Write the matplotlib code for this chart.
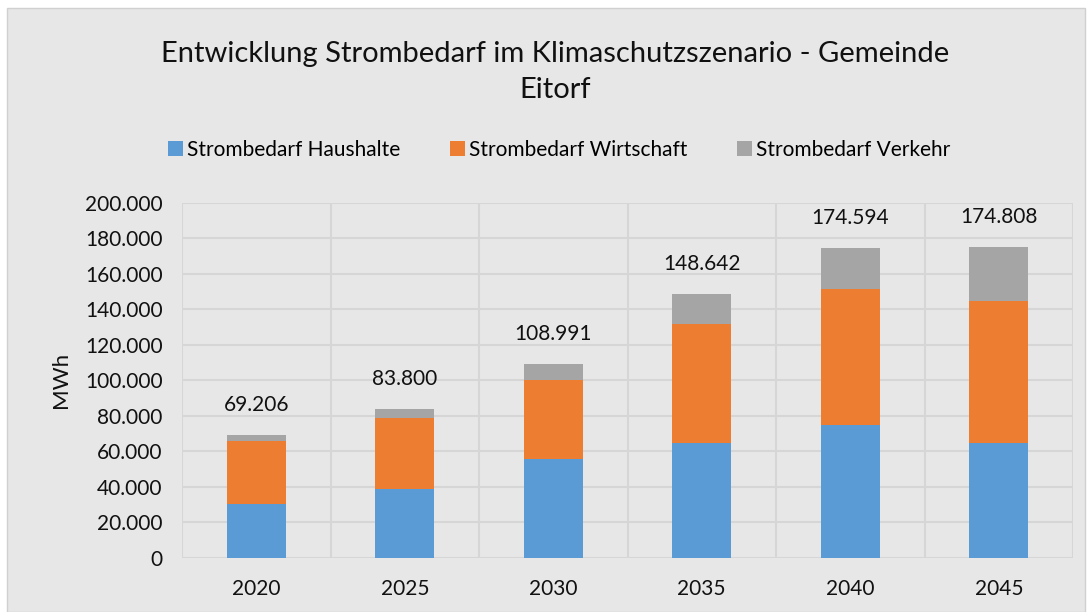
import numpy as np
import matplotlib
matplotlib.use("Agg")
import matplotlib.pyplot as plt
from matplotlib.patches import Rectangle
from matplotlib.ticker import FuncFormatter

years = ["2020", "2025", "2030", "2035", "2040", "2045"]
haushalte = [30400, 38900, 55400, 64400, 74800, 64400]
wirtschaft = [35500, 39800, 44900, 67400, 76400, 80400]
verkehr = [3306, 5100, 8691, 16842, 23394, 30008]
series_names = ["Strombedarf Haushalte", "Strombedarf Wirtschaft", "Strombedarf Verkehr"]

plt.rcParams["font.family"] = ["Lato", "DejaVu Sans"]
bg = "#e7e7e7"
grid_c = "#d6d6d6"
colors = ["#5b9bd5", "#ed7d31", "#a5a5a5"]

fig = plt.figure(figsize=(10.9, 6.12), dpi=100, facecolor="white")
fig.patches.append(Rectangle((7 / 1090, 0), 1 - 12 / 1090, 1 - 8 / 612,
                             transform=fig.transFigure, facecolor=bg,
                             edgecolor="#d0d0d0", lw=1, zorder=-1))
ax = fig.add_axes([182 / 1090, 1 - 557.7 / 612, (1073 - 182) / 1090, 355 / 612])
ax.set_facecolor(bg)

x = np.arange(len(years))
h = np.array(haushalte)
w = np.array(wirtschaft)
v = np.array(verkehr)
ax.bar(x, h, 0.4, color=colors[0], label=series_names[0], zorder=3)
ax.bar(x, w, 0.4, bottom=h, color=colors[1], label=series_names[1], zorder=3)
ax.bar(x, v, 0.4, bottom=h + w, color=colors[2], label=series_names[2], zorder=3)

totals = h + w + v
for xi, t in zip(x, totals):
    ax.text(xi, t + 17000, f"{t:,}".replace(",", "."),
            ha="center", va="center", fontsize=15, color="#111111", zorder=4)

ax.set_xlim(-0.5, len(years) - 0.5)
ax.set_ylim(0, 200000)
ax.set_yticks(np.arange(0, 200001, 20000))
ax.yaxis.set_major_formatter(FuncFormatter(lambda val, _: f"{int(val):,}".replace(",", ".")))
ax.set_xticks(x)
ax.set_xticklabels(years)
ax.set_xticks(np.arange(-0.5, len(years), 1), minor=True)
ax.grid(axis="y", which="major", color=grid_c, lw=1.5, zorder=0)
ax.grid(axis="x", which="minor", color=grid_c, lw=1.5, zorder=0)
ax.tick_params(which="both", length=0, labelsize=15, colors="#111111")
ax.tick_params(axis="x", pad=15)
ax.tick_params(axis="y", pad=14)
for s in ax.spines.values():
    s.set_visible(False)
ax.set_ylabel("MWh", fontsize=16, color="#111111", labelpad=10)

fig.text(0.509, 0.882, "Entwicklung Strombedarf im Klimaschutzszenario - Gemeinde\nEitorf",
         ha="center", va="center", fontsize=21, color="#111111", linespacing=1.45)
fig.legend(loc="center", bbox_to_anchor=(0.513, 1 - 150 / 612), ncol=3,
           frameon=False, fontsize=15, handlelength=0.7, handleheight=0.7,
           handletextpad=0.2, columnspacing=2.4)

plt.savefig("out.png", dpi=100, facecolor="white")
print("wrote out.png")
